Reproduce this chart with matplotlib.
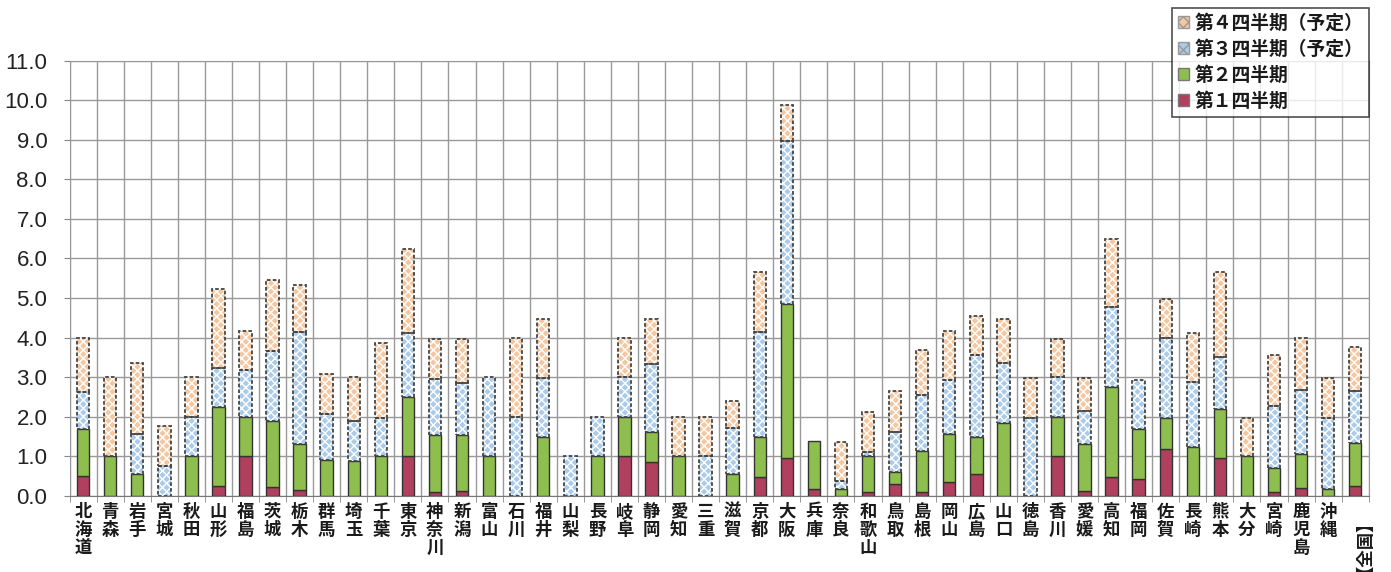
import numpy as np
import matplotlib
matplotlib.use("Agg")
import matplotlib.pyplot as plt
from matplotlib.patches import Patch

plt.rcParams['font.family'] = ['Noto Sans CJK JP', 'DejaVu Sans']

prefs = ["北海道", "青森", "岩手", "宮城", "秋田", "山形", "福島", "茨城", "栃木", "群馬",
         "埼玉", "千葉", "東京", "神奈川", "新潟", "富山", "石川", "福井", "山梨", "長野",
         "岐阜", "静岡", "愛知", "三重", "滋賀", "京都", "大阪", "兵庫", "奈良", "和歌山",
         "鳥取", "島根", "岡山", "広島", "山口", "徳島", "香川", "愛媛", "高知", "福岡",
         "佐賀", "長崎", "熊本", "大分", "宮崎", "鹿児島", "沖縄", "【全国】"]

# values per quarter (segment heights, not cumulative)
q1 = [0.50, 0, 0, 0, 0, 0.24, 1.00, 0.22, 0.15, 0,
      0, 0, 1.00, 0.09, 0.13, 0, 0, 0, 0, 0,
      1.00, 0.85, 0, 0, 0, 0.48, 0.97, 0.17, 0, 0.09,
      0.30, 0.10, 0.35, 0.55, 0, 0, 1.00, 0.12, 0.48, 0.42,
      1.18, 0, 0.97, 0, 0.10, 0.20, 0, 0.26]
q2 = [1.20, 1.00, 0.56, 0, 1.00, 2.00, 1.00, 1.68, 1.17, 0.90,
      0.89, 1.00, 1.51, 1.44, 1.41, 1.00, 0, 1.49, 0, 1.00,
      1.00, 0.77, 1.00, 0, 0.55, 1.00, 3.88, 1.21, 0.17, 0.91,
      0.30, 1.03, 1.22, 0.95, 1.84, 0, 1.00, 1.18, 2.27, 1.26,
      0.79, 1.23, 1.23, 1.00, 0.60, 0.87, 0.18, 1.09]
q3 = [0.92, 0, 1.00, 0.76, 1.00, 1.00, 1.17, 1.75, 2.82, 1.18,
      1.01, 0.98, 1.61, 1.43, 1.31, 2.00, 2.00, 1.48, 1.00, 1.00,
      1.00, 1.72, 0, 1.00, 1.17, 2.66, 4.12, 0, 0.21, 0.12,
      1.02, 1.41, 1.36, 2.05, 1.51, 1.97, 1.00, 0.84, 2.03, 1.25,
      2.03, 1.64, 1.30, 0, 1.57, 1.61, 1.79, 1.29]
q4 = [1.38, 2.00, 1.79, 1.00, 1.00, 2.00, 0.99, 1.80, 1.18, 1.01,
      1.10, 1.88, 2.11, 1.01, 1.12, 0, 2.00, 1.51, 0, 0,
      1.00, 1.14, 1.00, 1.00, 0.69, 1.52, 0.91, 0, 0.99, 1.00,
      1.03, 1.15, 1.24, 1.00, 1.13, 1.00, 0.97, 0.83, 1.70, 0,
      0.97, 1.25, 2.17, 0.97, 1.29, 1.31, 1.00, 1.13]

labels = ["第１四半期", "第２四半期", "第３四半期（予定）", "第４四半期（予定）"]
colors = ["#B0405E", "#8DBE4E", "#ABCBEA", "#F5C7A0"]

fig = plt.figure(figsize=(13.91, 5.72), dpi=100)
ax = fig.add_axes([0.050, 0.133, 0.934, 0.761])

x = np.arange(len(prefs))
w = 0.46
bottom = np.zeros(len(prefs))
for i, vals in enumerate([q1, q2, q3, q4]):
    vals = np.array(vals)
    keep = vals > 0
    if i < 2:
        ax.bar(x[keep], vals[keep], w, bottom=bottom[keep], color=colors[i],
               edgecolor="#333333", linewidth=1.0, zorder=3)
    else:
        ax.bar(x[keep], vals[keep], w, bottom=bottom[keep], color=colors[i],
               edgecolor="white", hatch="xxxx", linewidth=0, zorder=3)
        ax.bar(x[keep], vals[keep], w, bottom=bottom[keep], fill=False,
               edgecolor="#444444", linewidth=1.3, linestyle=(0, (2, 1.2)), zorder=4)
    bottom += vals

ax.set_xlim(-0.5, len(prefs) - 0.5)
ax.set_ylim(0, 11)
ax.set_yticks(np.arange(0, 12, 1))
ax.set_yticklabels([f"{v:.1f}" for v in range(12)], fontsize=16,
                   family=["Liberation Sans", "DejaVu Sans"], color="#222222")

ax.set_xticks(x)
ax.set_xticklabels(["\n".join(p) for p in prefs[:-1]] + [prefs[-1]],
                   fontsize=12.5, linespacing=1.0, va="top", color="#1a1a1a",
                   fontweight="bold")
ax.get_xticklabels()[-1].set_rotation(90)
ax.tick_params(axis="x", length=0, pad=5)
ax.tick_params(axis="y", length=4, color="#888888", pad=12)

ax.set_xticks(np.arange(-0.5, len(prefs), 1), minor=True)
ax.tick_params(axis="x", which="minor", length=4, color="#888888")
ax.grid(True, which="minor", axis="x", color="#999999", linewidth=1.0)
ax.grid(True, which="major", axis="y", color="#999999", linewidth=1.0)
ax.grid(False, which="major", axis="x")
ax.set_axisbelow(True)
for s in ax.spines.values():
    s.set_color("#999999")
ax.spines["bottom"].set_color("#777777")

handles = [Patch(facecolor=colors[3], edgecolor="#999999", hatch="xxx"),
           Patch(facecolor=colors[2], edgecolor="#999999", hatch="xxx"),
           Patch(facecolor=colors[1], edgecolor="#777777"),
           Patch(facecolor=colors[0], edgecolor="#777777")]
leg = fig.legend(handles, labels[::-1], loc="upper left",
                 bbox_to_anchor=(1172 / 1391, 1 - 8 / 572),
                 prop={"size": 13.5, "weight": "bold"},
                 frameon=True, fancybox=False, handlelength=0.6, handleheight=0.6,
                 handletextpad=0.3, labelspacing=0.38, borderpad=0.3,
                 borderaxespad=0)
leg.get_frame().set_edgecolor("#222222")
leg.get_frame().set_linewidth(1.2)
for t in leg.get_texts():
    t.set_color("#1a1a1a")

fig.savefig("out.png", dpi=100, facecolor="white")
